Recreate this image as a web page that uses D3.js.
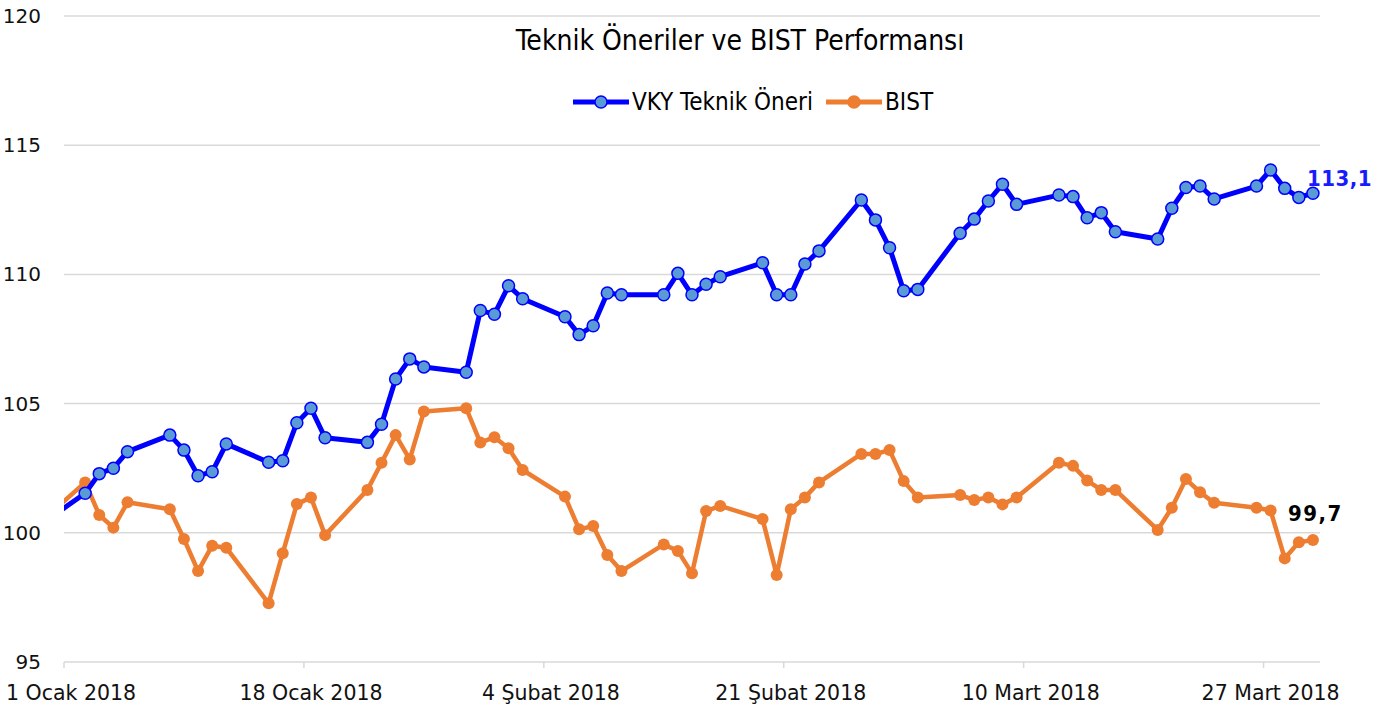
<!DOCTYPE html>
<html>
<head>
<meta charset="utf-8">
<script src="https://cdn.jsdelivr.net/npm/d3@7"></script>
<style>
  body { margin: 0; background: #fff; }
  text { font-family: "DejaVu Sans Condensed", "DejaVu Sans", sans-serif; font-stretch: condensed; }
  text.plain { font-family: "DejaVu Sans", sans-serif; font-stretch: normal; }
</style>
</head>
<body>
<svg id="chart"></svg>
<script>
// trading days (first one is the base day, left of the visible range)
var dates = ["2017-12-29",
  "2018-01-02","2018-01-03","2018-01-04","2018-01-05","2018-01-08","2018-01-09","2018-01-10","2018-01-11","2018-01-12",
  "2018-01-15","2018-01-16","2018-01-17","2018-01-18","2018-01-19","2018-01-22","2018-01-23","2018-01-24","2018-01-25",
  "2018-01-26","2018-01-29","2018-01-30","2018-01-31",
  "2018-02-01","2018-02-02","2018-02-05","2018-02-06","2018-02-07","2018-02-08","2018-02-09","2018-02-12","2018-02-13",
  "2018-02-14","2018-02-15","2018-02-16","2018-02-19","2018-02-20","2018-02-21","2018-02-22","2018-02-23","2018-02-26",
  "2018-02-27","2018-02-28",
  "2018-03-01","2018-03-02","2018-03-05","2018-03-06","2018-03-07","2018-03-08","2018-03-09","2018-03-12","2018-03-13",
  "2018-03-14","2018-03-15","2018-03-16","2018-03-19","2018-03-20","2018-03-21","2018-03-22","2018-03-23","2018-03-26",
  "2018-03-27","2018-03-28","2018-03-29","2018-03-30"];

var vky = [100,
  101.53,102.29,102.50,103.14,103.78,103.20,102.21,102.36,103.44,
  102.73,102.79,104.26,104.82,103.68,103.50,104.20,105.95,106.73,
  106.42,106.21,108.60,108.46,
  109.56,109.06,108.36,107.67,108.01,109.28,109.21,109.21,110.04,
  109.21,109.62,109.91,110.45,109.21,109.21,110.40,110.91,112.88,
  112.11,111.03,
  109.37,109.42,111.59,112.14,112.84,113.49,112.71,113.07,113.01,
  112.19,112.39,111.65,111.37,112.56,113.36,113.42,112.92,113.42,
  114.04,113.33,112.98,113.14];

var bist = [100,
  101.95,100.69,100.20,101.18,100.91,99.76,98.52,99.50,99.42,
  97.27,99.21,101.11,101.37,99.91,101.66,102.71,103.78,102.84,
  104.69,104.82,103.49,103.70,
  103.27,102.43,101.40,100.14,100.26,99.14,98.52,99.55,99.30,
  98.43,100.84,101.04,100.53,98.37,100.91,101.37,101.95,103.05,
  103.05,103.20,
  102.00,101.37,101.46,101.27,101.37,101.10,101.37,102.71,102.59,
  102.02,101.66,101.66,100.11,100.97,102.08,101.57,101.16,100.97,
  100.86,99.01,99.63,99.72];

var yTicks = [95, 100, 105, 110, 115, 120];
var xTickDates = ["2018-01-01","2018-01-18","2018-02-04","2018-02-21","2018-03-10","2018-03-27"];
var xTickLabels = ["1 Ocak 2018","18 Ocak 2018","4 Şubat 2018","21 Şubat 2018","10 Mart 2018","27 Mart 2018"];
var seriesNames = ["VKY Teknik Öneri", "BIST"];

var margin = { top: 16, right: 67, bottom: 51, left: 64 };
var width = 1387 - margin.left - margin.right,
    height = 713 - margin.top - margin.bottom;

var parse = d3.utcParse("%Y-%m-%d");
var halfDay = 12 * 3600 * 1000;

var x = d3.scaleUtc()
    .domain([parse("2018-01-01"), parse("2018-03-31")])
    .range([0, width]);

var y = d3.scaleLinear()
    .domain([95, 120])
    .range([height, 0]);

var svg = d3.select("#chart")
    .attr("width", width + margin.left + margin.right)
    .attr("height", height + margin.top + margin.bottom)
    .append("g")
    .attr("transform", "translate(" + margin.left + "," + margin.top + ")");

// grid lines
svg.selectAll(".grid")
    .data(yTicks)
    .enter()
    .append("line")
    .attr("x1", 0)
    .attr("x2", width)
    .attr("y1", d => y(d))
    .attr("y2", d => y(d))
    .attr("stroke", "#d9d9d9")
    .attr("stroke-width", 1.5);

// y labels
svg.selectAll(".ylab")
    .data(yTicks)
    .enter()
    .append("text")
    .attr("class", "plain")
    .attr("x", -23)
    .attr("y", d => y(d))
    .attr("dy", "0.35em")
    .attr("text-anchor", "end")
    .attr("font-size", "20px")
    .attr("fill", "#111")
    .text(d => d);

// x ticks and labels
var tickDates = xTickDates.map(parse);
svg.selectAll(".xtick")
    .data(tickDates)
    .enter()
    .append("line")
    .attr("x1", d => x(d))
    .attr("x2", d => x(d))
    .attr("y1", height)
    .attr("y2", height + 6)
    .attr("stroke", "#d9d9d9")
    .attr("stroke-width", 1.5);

svg.selectAll(".xlab")
    .data(tickDates)
    .enter()
    .append("text")
    .attr("class", "plain")
    .attr("x", d => x(new Date(+d + halfDay)))
    .attr("y", height + 31)
    .attr("dy", "0.35em")
    .attr("text-anchor", "middle")
    .attr("font-size", "20.5px")
    .attr("fill", "#111")
    .text((d, i) => xTickLabels[i]);

// clip so the base day line enters from the left edge
svg.append("clipPath")
    .attr("id", "clip")
    .append("rect")
    .attr("x", 0)
    .attr("y", -20)
    .attr("width", width + 20)
    .attr("height", height + 40);

var pts = dates.map(parse).map(d => new Date(+d + halfDay));
var vkyData = pts.map((d, i) => ({ date: d, v: vky[i] }));
var bistData = pts.map((d, i) => ({ date: d, v: bist[i] }));

var line = d3.line()
    .x(d => x(d.date))
    .y(d => y(d.v));

var plot = svg.append("g").attr("clip-path", "url(#clip)");

plot.append("path")
    .datum(bistData)
    .attr("d", line)
    .attr("fill", "none")
    .attr("stroke", "#ed7d31")
    .attr("stroke-width", 4.5)
    .attr("stroke-linejoin", "round");

plot.selectAll(".bdot")
    .data(bistData.slice(1))
    .enter()
    .append("circle")
    .attr("cx", d => x(d.date))
    .attr("cy", d => y(d.v))
    .attr("r", 6)
    .attr("fill", "#ed7d31");

plot.append("path")
    .datum(vkyData)
    .attr("d", line)
    .attr("fill", "none")
    .attr("stroke", "#0000ff")
    .attr("stroke-width", 5)
    .attr("stroke-linejoin", "round");

plot.selectAll(".vdot")
    .data(vkyData.slice(1))
    .enter()
    .append("circle")
    .attr("cx", d => x(d.date))
    .attr("cy", d => y(d.v))
    .attr("r", 6)
    .attr("fill", "#5b9bd5")
    .attr("stroke", "#0000ff")
    .attr("stroke-width", 1.5);

// end value labels
var fmt = v => d3.format(".1f")(v).replace(".", ",");
var lastV = vkyData[vkyData.length - 1], lastB = bistData[bistData.length - 1];

svg.append("text")
    .attr("x", x(lastV.date) - 6)
    .attr("y", y(lastV.v) - 15)
    .attr("dy", "0.35em")
    .attr("font-size", "22px")
    .attr("font-weight", "bold")
    .attr("letter-spacing", "0.5px")
    .attr("fill", "#1a1aff")
    .text(fmt(lastV.v));

svg.append("text")
    .attr("x", x(lastB.date) - 25)
    .attr("y", y(lastB.v) - 27)
    .attr("dy", "0.35em")
    .attr("font-size", "22px")
    .attr("font-weight", "bold")
    .attr("letter-spacing", "1.5px")
    .attr("fill", "#000")
    .text(fmt(lastB.v));

// title
svg.append("text")
    .attr("x", 740 - margin.left)
    .attr("y", 40 - margin.top)
    .attr("dy", "0.35em")
    .attr("text-anchor", "middle")
    .attr("font-size", "28px")
    .attr("fill", "#000")
    .text("Teknik Öneriler ve BIST Performansı");

// legend
var legend = svg.append("g")
    .attr("transform", "translate(" + (573 - margin.left) + "," + (102 - margin.top) + ")");

var legendItems = [
  { name: seriesNames[0], x0: 0, color: "#0000ff", fill: "#5b9bd5" },
  { name: seriesNames[1], x0: 253, color: "#ed7d31", fill: "#ed7d31" }
];

legendItems.forEach(function (it) {
  legend.append("line")
      .attr("x1", it.x0).attr("x2", it.x0 + 56)
      .attr("y1", 0).attr("y2", 0)
      .attr("stroke", it.color)
      .attr("stroke-width", 5);
  legend.append("circle")
      .attr("cx", it.x0 + 28).attr("cy", 0)
      .attr("r", 6)
      .attr("fill", it.fill)
      .attr("stroke", it.color)
      .attr("stroke-width", 1.5);
  legend.append("text")
      .attr("x", it.x0 + 59)
      .attr("y", 0)
      .attr("dy", "0.35em")
      .attr("font-size", "24px")
      .attr("fill", "#000")
      .text(it.name);
});
</script>
</body>
</html>
